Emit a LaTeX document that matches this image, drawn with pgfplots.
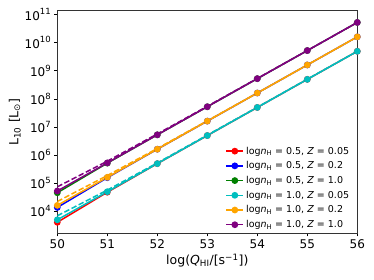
\documentclass[border=0pt]{standalone}
\usepackage{pgfplots}
\pgfplotsset{compat=1.18}
\usepackage{fontspec}
\setmainfont{DejaVu Sans}
\definecolor{mred}{RGB}{255,0,0}
\definecolor{mblue}{RGB}{0,0,255}
\definecolor{mgreen}{RGB}{0,128,0}
\definecolor{mcyan}{RGB}{0,191,191}
\definecolor{morange}{RGB}{255,165,0}
\definecolor{mpurple}{RGB}{128,0,128}
\begin{document}
\begin{tikzpicture}
\path[use as bounding box] (-57.3pt,-46.7pt) rectangle (316.7pt,233.3pt);
\begin{axis}[
  at={(0,0)}, anchor=south west,
  width=300pt, height=222.6pt, scale only axis,
  ymode=log, log basis y=10,
  xmin=50, xmax=56, ymin=1622, ymax=1.365e11,
  xtick={50,51,52,53,54,55,56},
  ytick={1e4,1e5,1e6,1e7,1e8,1e9,1e10,1e11},
  xtick pos=bottom, ytick pos=left,
  tick align=outside,
  major tick length=3pt, minor tick length=1.7pt,
  every tick/.style={black, line width=0.5pt},
  axis line style={line width=0.6pt, black!80},
  /pgf/number format/assume math mode=true,
  xticklabel style={font=\fontsize{12}{14}\selectfont},
  yticklabel style={font=\fontsize{12}{14}\selectfont},
  xticklabel={\pgfmathprintnumber[assume math mode=true]{\tick}},
  yticklabel={10\raisebox{0.45em}{\fontsize{8.5}{9}\selectfont\pgfmathprintnumber[assume math mode=true]{\tick}}},
  label style={font=\fontsize{12.5}{14}\selectfont},
  xlabel={log(\textit{Q}\textsubscript{HI}/[s\textsuperscript{−1}])},
  ylabel={L\textsubscript{10} [L\textsubscript{⊙}]},
  xlabel style={yshift=2pt},
  ylabel style={yshift=-3pt},
  legend style={draw=none, fill=none, at={(0.99,0.0)}, anchor=south east,
    font=\fontsize{9.5}{11}\selectfont, row sep=2pt},
  legend cell align=left,
  every axis plot/.append style={line width=1.5pt},
  mark size=2.6pt,
]
\addplot[color=mred, mark=*] coordinates {(50,4.0e3)(51,4.7e4)(52,4.9e5)(53,4.9e6)(54,4.9e7)(55,4.9e8)(56,4.9e9)};
\addlegendentry{log\textit{n}\textsubscript{H} = 0.5, \textit{Z} = 0.05}
\addplot[color=mblue, mark=*] coordinates {(50,1.35e4)(51,1.55e5)(52,1.6e6)(53,1.6e7)(54,1.6e8)(55,1.6e9)(56,1.6e10)};
\addlegendentry{log\textit{n}\textsubscript{H} = 0.5, \textit{Z} = 0.2}
\addplot[color=mgreen, mark=*] coordinates {(50,4.5e4)(51,5.1e5)(52,5.2e6)(53,5.2e7)(54,5.2e8)(55,5.2e9)(56,5.2e10)};
\addlegendentry{log\textit{n}\textsubscript{H} = 0.5, \textit{Z} = 1.0}
\addplot[color=mcyan, mark=*] coordinates {(50,4.9e3)(51,4.9e4)(52,4.9e5)(53,4.9e6)(54,4.9e7)(55,4.9e8)(56,4.9e9)};
\addlegendentry{log\textit{n}\textsubscript{H} = 1.0, \textit{Z} = 0.05}
\addplot[color=morange, mark=*] coordinates {(50,1.6e4)(51,1.6e5)(52,1.6e6)(53,1.6e7)(54,1.6e8)(55,1.6e9)(56,1.6e10)};
\addlegendentry{log\textit{n}\textsubscript{H} = 1.0, \textit{Z} = 0.2}
\addplot[color=mpurple, mark=*] coordinates {(50,5.2e4)(51,5.2e5)(52,5.2e6)(53,5.2e7)(54,5.2e8)(55,5.2e9)(56,5.2e10)};
\addlegendentry{log\textit{n}\textsubscript{H} = 1.0, \textit{Z} = 1.0}
\addplot[color=mcyan, dash pattern=on 5.5pt off 2.5pt, forget plot] coordinates {(50,6.8e3)(51,5.6e4)(52,5.2e5)(53,5.1e6)(54,5.0e7)(55,5.0e8)(56,4.9e9)};
\addplot[color=morange, dash pattern=on 5.5pt off 2.5pt, forget plot] coordinates {(50,2.2e4)(51,1.85e5)(52,1.7e6)(53,1.65e7)(54,1.6e8)(55,1.6e9)(56,1.6e10)};
\addplot[color=mpurple, dash pattern=on 5.5pt off 2.5pt, forget plot] coordinates {(50,7.3e4)(51,6.0e5)(52,5.6e6)(53,5.4e7)(54,5.3e8)(55,5.2e9)(56,5.2e10)};
\end{axis}
\end{tikzpicture}
\end{document}
